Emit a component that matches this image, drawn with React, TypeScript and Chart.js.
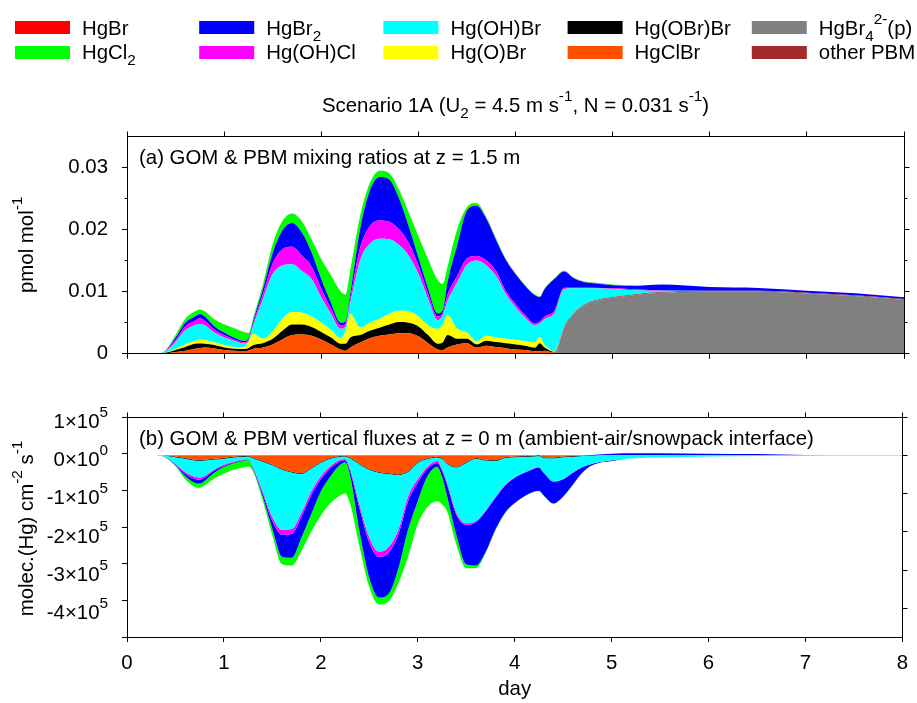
import React, { useEffect, useRef } from 'react';
import { Chart, registerables } from 'chart.js';

Chart.register(...registerables);

const FONT = '"Liberation Sans", Arial, Helvetica, sans-serif';
const FS = 20.4;

// ---------------- data ----------------
const days = [0, 0.3, 0.4, 0.5, 0.6, 0.7, 0.75, 0.8, 0.9, 1.0,
  1.1, 1.2, 1.25, 1.3, 1.4, 1.5, 1.6, 1.7, 1.8, 1.9,
  2.0, 2.1, 2.2, 2.25, 2.3, 2.4, 2.5, 2.6, 2.7, 2.8,
  2.9, 3.0, 3.1, 3.2, 3.25, 3.3, 3.4, 3.5, 3.6, 3.7,
  3.8, 3.9, 4.0, 4.1, 4.2, 4.25, 4.3, 4.4, 4.5, 4.6,
  4.7, 4.8, 5.0, 5.25, 5.5, 6.0, 6.5, 7.0, 7.5, 8.0];

const dayTicks = [0, 1, 2, 3, 4, 5, 6, 7, 8];
const mixTicks = [0, 0.01, 0.02, 0.03];
const mixMinorTicks = [0.005, 0.015, 0.025];
const fluxTicks = [1e5, 0, -1e5, -2e5, -3e5, -4e5];
const fluxTickMantissa = ['1', '0', '-1', '-2', '-3', '-4'];
const fluxTickExponent = ['5', '0', '5', '5', '5', '5'];

// panel (a): mixing ratios, in units of 1e-3 pmol/mol
const MIX_UNIT = 1e-3;
const mixHgBr4p = [0,0,0,0,0,0,0,0,0,0, 0,0,0,0,0,0,0,0,0,0, 0,0,0,0,0,0,0,0,0,0, 0,0,0,0,0,0,0,0,0,0, 0,0,0,0,0,0,0,0,4.2,6.4, 7.7,8.4,9.0,9.5,9.8,10.0,10.0,9.7,9.3,8.7];
const mixOtherPBM = [0,0,0,0,0,0,0,0,0,0, 0,0,0,0,0,0,0,0,0,0, 0,0,0,0,0,0,0,0,0,0, 0,0,0,0,0,0,0,0,0,0, 0,0,0,0,0,0,0,0,0.12,0.12, 0.12,0.12,0.12,0.12,0.12,0.12,0.12,0.12,0.12,0.12];
const mixHgClBr = [0,0,0.1,0.3,0.5,0.8,0.9,1.0,0.85,0.6, 0.5,0.45,0.5,0.8,1.0,1.5,2.3,3.0,3.1,2.9, 2.3,1.5,0.7,0.5,1.0,1.8,2.5,2.9,3.1,3.3, 3.3,2.8,1.7,0.7,0.6,1.0,1.5,1.7,1.0,1.3, 1.1,0.9,0.7,0.6,0.4,0.4,0.5,0.2,0,0, 0,0,0,0,0,0,0,0,0,0];
const mixHgOBrBr = [0,0,0.05,0.3,0.6,0.8,0.75,0.6,0.55,0.4, 0.3,0.3,0.4,0.6,0.7,0.9,1.4,1.7,1.6,1.4, 1.2,1.1,0.9,1.1,1.6,1.2,1.2,1.3,1.6,1.8, 1.7,1.6,1.3,0.9,1.2,2.0,0.9,0.7,0.5,0.8, 0.8,0.8,0.8,0.7,0.6,1.3,0.5,0.1,0,0, 0,0,0,0,0,0,0,0,0,0];
const mixHgOBr = [0,0,0.05,0.2,0.4,0.5,0.65,0.6,0.4,0.4, 0.3,0.35,0.9,1.8,0.7,1.2,1.9,2.0,1.9,1.7, 1.5,1.2,0.9,2.0,3.8,1.2,1.3,1.4,1.7,1.8, 1.8,1.6,1.6,2.4,2.8,3.2,1.6,1.0,0.5,0.8, 0.7,0.7,0.7,0.7,0.8,1.0,0.4,0.1,0,0, 0,0,0,0,0,0,0,0,0,0];
const mixHgOHBr = [0,0,0.2,1.1,2.3,2.5,2.5,2.4,1.6,1.2, 1.0,0.55,0.2,1.3,6.4,9.2,8.6,7.7,6.7,6.0, 4.1,2.6,1.5,0.8,1.8,10.8,12.7,12.9,12.0,10.6, 9.0,6.8,4.2,1.4,1.6,2.3,7.5,10.9,13.0,11.3, 9.9,7.2,5.3,3.8,2.8,2.2,4.2,6.1,6.1,4.0, 2.7,2.0,1.3,0.6,0.2,0,0,0,0,0];
const mixHgOHCl = [0,0,0.05,0.3,0.6,0.7,0.9,0.7,0.5,0.4, 0.2,0.2,0.2,0.4,0.8,1.7,2.6,2.8,2.5,2.0, 1.4,0.9,0.6,0.4,0.8,2.0,2.8,2.9,2.8,2.5, 2.0,1.4,0.9,0.6,0.4,1.0,1.0,1.0,0.7,0.8, 0.8,0.5,0.5,0.4,0.3,0.3,0.4,0.4,0.2,0.1, 0.1,0.1,0.1,0.1,0.05,0,0,0,0,0];
const mixHgBr2 = [0,0,0.05,0.4,0.6,0.7,0.7,0.7,0.5,0.4, 0.3,0.2,0.2,0.4,0.8,1.7,3.0,3.8,3.7,2.3, 1.5,0.9,0.4,0.4,0.8,3.0,5.7,7.0,6.8,5.0, 2.7,1.3,0.8,0.5,0.4,2.0,5.0,7.7,8.1,6.7, 5.0,5.0,4.8,4.7,4.5,3.9,4.4,5.1,2.6,1.5, 0.9,0.7,0.5,0.6,0.95,0.6,0.45,0.3,0.3,0.25];
const mixHgCl2 = [0,0,0.1,0.4,0.6,0.8,0.7,0.8,1.1,1.3, 1.5,1.45,0.9,0.5,0.8,1.4,1.5,1.5,1.8,2.1, 3.2,4.4,5.0,4.3,3.7,2.1,1.2,1.0,1.0,1.4, 2.2,3.4,4.7,5.3,4.2,2.5,2.5,0.5,0.4,0.2, 0.2,0.1,0.1,0.1,0.1,0.1,0.1,0.1,0.1,0.1, 0.1,0.1,0.1,0,0,0,0,0,0,0];
const mixHgBr = [0,0,0,0.03,0.03,0.03,0.03,0.03,0.03,0.03, 0.03,0.03,0.03,0.03,0.03,0.03,0.03,0.03,0.03,0.03, 0.03,0.03,0.03,0.03,0.03,0.03,0.03,0.03,0.03,0.03, 0.03,0.03,0.03,0.03,0.03,0.03,0.03,0.03,0.03,0.03, 0.03,0.03,0.03,0.03,0.03,0.03,0.03,0.03,0.03,0.03, 0.03,0.03,0,0,0,0,0,0,0,0];

// panel (b): vertical fluxes, in units of 1e5 molec.(Hg) cm-2 s-1
const FLUX_UNIT = 1e5;
const fluxHgBr4p = [0,0,0,0,0,0,0,0,0,0, 0,0,0,0,0,0,0,0,0,0, 0,0,0,0,0,0,0,0,0,0, 0,0,0,0,0,0,0,0,0,0, 0,0,0,0,0,0,0,0,0,0, 0,0,0,0,0,0,0,0,0,0];
const fluxOtherPBM = [0,0,0,0,0,0,0,0,0,0, 0,0,0,0,0,0,0,0,0,0, 0,0,0,0,0,0,0,0,0,0, 0,0,0,0,0,0,0,0,0,0, 0,0,0,0,0,0,0,0,0,0, 0,0,0,0,0,0,0,0,0,0];
const fluxHgClBr = [0,0,-0.005,-0.03,-0.07,-0.12,-0.13,-0.12,-0.09,-0.07, -0.04,-0.02,-0.01,-0.06,-0.15,-0.24,-0.36,-0.43,-0.47,-0.33, -0.18,-0.07,-0.02,-0.01,-0.06,-0.22,-0.36,-0.44,-0.47,-0.50, -0.42,-0.18,-0.08,-0.04,-0.08,-0.20,-0.30,-0.18,-0.07,-0.12, -0.13,-0.05,-0.03,-0.02,-0.01,0,-0.05,-0.06,-0.03,-0.02, -0.01,0,0,0,0,0,0,0,0,0];
const fluxHgOBrBr = [0,0,-0.005,-0.02,-0.02,-0.02,-0.02,-0.02,-0.02,-0.02, -0.02,-0.02,-0.02,-0.02,-0.02,-0.02,-0.02,-0.02,-0.02,-0.02, -0.02,-0.02,-0.02,-0.02,-0.02,-0.02,-0.02,-0.02,-0.02,-0.02, -0.02,-0.02,-0.02,-0.02,-0.02,-0.02,-0.02,-0.02,-0.02,-0.02, -0.02,-0.02,-0.02,-0.02,-0.02,-0.02,-0.02,-0.02,-0.02,-0.02, -0.01,-0.01,0,0,0,0,0,0,0,0];
const fluxHgOBr = [0,0,0,0,0,0,0,0,0,0, 0,0,0,0,0,0,0,0,0,0, 0,0,0,0,0,0,0,0,0,0, 0,0,0,0,0,0,0,0,0,0, 0,0,0,0,0,0,0,0,0,0, 0,0,0,0,0,0,0,0,0,0];
const fluxHgOHBr = [0,0,-0.04,-0.17,-0.35,-0.42,-0.43,-0.40,-0.26,-0.16, -0.11,-0.08,-0.07,-0.22,-0.78,-1.36,-1.57,-1.48,-1.01,-0.60, -0.35,-0.19,-0.08,-0.07,-0.26,-1.06,-1.77,-2.06,-1.91,-1.43, -0.64,-0.42,-0.20,-0.09,-0.25,-0.47,-1.18,-1.58,-1.63,-1.31, -0.95,-0.71,-0.53,-0.41,-0.31,-0.29,-0.38,-0.60,-0.57,-0.41, -0.29,-0.21,-0.13,-0.08,-0.06,-0.03,-0.02,-0.015,-0.01,-0.01];
const fluxHgOHCl = [0,0,-0.005,-0.02,-0.04,-0.06,-0.06,-0.05,-0.03,-0.03, -0.02,-0.01,-0.01,-0.03,-0.05,-0.10,-0.13,-0.13,-0.11,-0.10, -0.08,-0.05,-0.04,-0.03,-0.06,-0.10,-0.13,-0.14,-0.15,-0.12, -0.12,-0.10,-0.06,-0.05,-0.05,-0.06,-0.06,-0.04,-0.03,-0.02, -0.02,-0.02,-0.01,-0.01,-0.01,-0.01,-0.01,-0.01,-0.01,-0.01, 0,0,0,0,0,0,0,0,0,0];
const fluxHgBr2 = [0,0,-0.005,-0.02,-0.06,-0.10,-0.10,-0.08,-0.06,-0.03, -0.02,-0.02,-0.01,-0.03,-0.08,-0.20,-0.57,-0.62,-0.54,-0.50, -0.32,-0.22,-0.09,-0.05,-0.10,-0.60,-0.92,-1.06,-1.07,-0.89, -0.75,-0.48,-0.19,-0.10,-0.15,-0.29,-0.54,-1.03,-1.13,-1.06, -0.83,-0.70,-0.66,-0.61,-0.60,-0.61,-0.59,-0.57,-0.45,-0.31, -0.14,-0.04,-0.02,0,0,0,0,0,0,0];
const fluxHgCl2 = [0,0,-0.01,-0.03,-0.09,-0.11,-0.11,-0.12,-0.15,-0.17, -0.17,-0.17,-0.18,-0.06,-0.10,-0.18,-0.20,-0.20,-0.35,-0.45, -0.63,-0.70,-0.80,-0.82,-0.75,-0.40,-0.25,-0.18,-0.20,-0.39, -0.70,-0.60,-0.80,-0.90,-0.73,-0.41,-0.25,-0.10,-0.07,-0.03, -0.02,-0.02,-0.01,-0.01,-0.01,-0.01,-0.01,-0.01,-0.01,-0.01, 0,0,0,0,0,0,0,0,0,0];
const fluxHgBr = [0,0,0,0,0,0,0,0,0,0, 0,0,0,0,0,0,0,0,0,0, 0,0,0,0,0,0,0,0,0,0, 0,0,0,0,0,0,0,0,0,0, 0,0,0,0,0,0,0,0,0,0, 0,0,0,0,0,0,0,0,0,0];
// small upward (positive) HgBr2 flux after day 4.8
const fluxHgBr2Up = [0,0,0,0,0,0,0,0,0,0, 0,0,0,0,0,0,0,0,0,0, 0,0,0,0,0,0,0,0,0,0, 0,0,0,0,0,0,0,0,0,0, 0,0,0,0,0,0,0,0,0,0, 0,0.01,0.04,0.05,0.05,0.04,0.03,0.01,0,0];

type Seg = [string, number]; // 0 normal, 1 superscript, -1 subscript

// stacking order, bottom to top
const species = [
  { key: 'HgBr4', color: '#808080', mix: mixHgBr4p, flux: fluxHgBr4p, segs: [['HgBr', 0], ['4', -1], ['2-', 1], ['(p)', 0]] as Seg[] },
  { key: 'other', color: '#a52a2a', mix: mixOtherPBM, flux: fluxOtherPBM, segs: [['other PBM', 0]] as Seg[] },
  { key: 'HgClBr', color: '#ff5000', mix: mixHgClBr, flux: fluxHgClBr, segs: [['HgClBr', 0]] as Seg[] },
  { key: 'HgOBrBr', color: '#000000', mix: mixHgOBrBr, flux: fluxHgOBrBr, segs: [['Hg(OBr)Br', 0]] as Seg[] },
  { key: 'HgOBr', color: '#ffff00', mix: mixHgOBr, flux: fluxHgOBr, segs: [['Hg(O)Br', 0]] as Seg[] },
  { key: 'HgOHBr', color: '#00ffff', mix: mixHgOHBr, flux: fluxHgOHBr, segs: [['Hg(OH)Br', 0]] as Seg[] },
  { key: 'HgOHCl', color: '#ff00ff', mix: mixHgOHCl, flux: fluxHgOHCl, segs: [['Hg(OH)Cl', 0]] as Seg[] },
  { key: 'HgBr2', color: '#0000ff', mix: mixHgBr2, flux: fluxHgBr2, segs: [['HgBr', 0], ['2', -1]] as Seg[] },
  { key: 'HgCl2', color: '#00ff00', mix: mixHgCl2, flux: fluxHgCl2, segs: [['HgCl', 0], ['2', -1]] as Seg[] },
  { key: 'HgBr', color: '#ff0000', mix: mixHgBr, flux: fluxHgBr, segs: [['HgBr', 0]] as Seg[] },
];

const legendColumns = [
  ['HgBr', 'HgCl2'],
  ['HgBr2', 'HgOHCl'],
  ['HgOHBr', 'HgOBr'],
  ['HgOBrBr', 'HgClBr'],
  ['HgBr4', 'other'],
];

const titleSegs: Seg[] = [['Scenario 1A (U', 0], ['2', -1], [' = 4.5 m s', 0], ['-1', 1], [', N = 0.031 s', 0], ['-1', 1], [')', 0]];
const yTitleA: Seg[] = [['pmol mol', 0], ['-1', 1]];
const yTitleB: Seg[] = [['molec.(Hg) cm', 0], ['-2', 1], [' s', 0], ['-1', 1]];
const panelA = '(a) GOM & PBM mixing ratios at z = 1.5 m';
const panelB = '(b) GOM & PBM vertical fluxes at z = 0 m (ambient-air/snowpack interface)';

// ---------------- helpers ----------------
function drawRich(ctx: CanvasRenderingContext2D, segs: Seg[], x: number, y: number, align: string, size = FS) {
  const sizes = segs.map((s) => (s[1] ? size * 0.75 : size));
  const widths = segs.map((s, i) => {
    ctx.font = `${sizes[i]}px ${FONT}`;
    return ctx.measureText(s[0]).width;
  });
  const total = widths.reduce((a, b) => a + b, 0);
  let cx = align === 'center' ? x - total / 2 : align === 'right' ? x - total : x;
  ctx.textAlign = 'left';
  ctx.textBaseline = 'alphabetic';
  ctx.fillStyle = '#000';
  segs.forEach((s, i) => {
    ctx.font = `${sizes[i]}px ${FONT}`;
    const dy = s[1] === 1 ? -size * 0.55 : s[1] === -1 ? size * 0.27 : 0;
    ctx.fillText(s[0], cx, y + dy);
    cx += widths[i];
  });
}

const al = (p: number) => Math.round(p - 0.5) + 0.5;

function drawFrame(ctx: CanvasRenderingContext2D, a: any, xs: any, ys: any, yMajor: number[], yMinor: number[]) {
  ctx.save();
  ctx.strokeStyle = '#000';
  ctx.lineWidth = 1;
  const T = al(a.top), R = al(a.right), L = al(a.left);
  ctx.beginPath();
  ctx.moveTo(L, T);
  ctx.lineTo(R, T);
  ctx.lineTo(R, al(a.bottom));
  dayTicks.forEach((v) => {
    const px = al(xs.getPixelForValue(v));
    ctx.moveTo(px, T);
    ctx.lineTo(px, T - 5);
  });
  yMajor.forEach((v) => {
    const py = al(ys.getPixelForValue(v));
    ctx.moveTo(R, py);
    ctx.lineTo(R + 5, py);
  });
  yMinor.forEach((v) => {
    const py = al(ys.getPixelForValue(v));
    ctx.moveTo(R, py);
    ctx.lineTo(R + 3, py);
    ctx.moveTo(L, py);
    ctx.lineTo(L - 3, py);
  });
  ctx.stroke();
  ctx.restore();
}

function buildDatasets(field: 'mix' | 'flux', unit: number) {
  return species.map((s, i) => ({
    label: s.key,
    data: days.map((d, j) => ({ x: d, y: s[field][j] * unit })),
    backgroundColor: s.color,
    borderColor: s.color,
    borderWidth: 0,
    pointRadius: 0,
    fill: i === 0 ? 'origin' : '-1',
    cubicInterpolationMode: 'monotone',
  }));
}

const axisCommon = {
  grid: { drawOnChartArea: false, drawTicks: true, tickLength: 5, color: '#000', z: 1 },
  border: { display: true, color: '#000', width: 1, z: 1 },
};

export default function App() {
  const refA = useRef<HTMLCanvasElement>(null);
  const refB = useRef<HTMLCanvasElement>(null);

  useEffect(() => {
    const decorA = {
      id: 'decorA',
      afterDraw(chart: any) {
        const { ctx, chartArea: a, scales } = chart;
        drawFrame(ctx, a, scales.x, scales.y, mixTicks, mixMinorTicks);
        ctx.save();
        // legend
        legendColumns.forEach((col, c) => {
          col.forEach((key, r) => {
            const sp = species.find((s) => s.key === key)!;
            const sx = 15 + 184.2 * c;
            ctx.fillStyle = sp.color;
            ctx.fillRect(sx, 21 + 25 * r, 55, 13);
            drawRich(ctx, sp.segs, sx + 67, 35.2 + 23.8 * r, 'left');
          });
        });
        // title
        drawRich(ctx, titleSegs, (a.left + a.right) / 2, 112.3, 'center');
        // panel label
        drawRich(ctx, [[panelA, 0]], a.left + 12, 164, 'left');
        // y title
        ctx.translate(33, (a.top + a.bottom) / 2);
        ctx.rotate(-Math.PI / 2);
        drawRich(ctx, yTitleA, 0, 0, 'center');
        ctx.restore();
      },
    };

    const decorB = {
      id: 'decorB',
      afterDraw(chart: any) {
        const { ctx, chartArea: a, scales } = chart;
        drawFrame(ctx, a, scales.x, scales.y, fluxTicks, []);
        ctx.save();
        fluxTicks.forEach((v, i) => {
          const py = scales.y.getPixelForValue(v);
          drawRich(ctx, [[fluxTickMantissa[i] + '\u00d710', 0], [fluxTickExponent[i], 1]], 108, py + 10.8, 'right');
        });
        drawRich(ctx, [[panelB, 0]], a.left + 12, 64.6, 'left');
        ctx.translate(33, (a.top + a.bottom) / 2 + 1.5);
        ctx.rotate(-Math.PI / 2);
        drawRich(ctx, yTitleB, 0, 0, 'center');
        ctx.restore();
      },
    };

    const chartA = new Chart(refA.current as HTMLCanvasElement, {
      type: 'line',
      data: { datasets: buildDatasets('mix', MIX_UNIT) as any },
      options: {
        animation: false,
        responsive: false,
        devicePixelRatio: 1,
        layout: { padding: { top: 136, right: 13, left: 0, bottom: 0 } },
        plugins: { legend: { display: false }, tooltip: { enabled: false } },
        scales: {
          x: {
            type: 'linear', min: 0, max: 8,
            ticks: { display: false, stepSize: 1 },
            ...axisCommon,
            afterFit: (s: any) => { s.height = 24; },
          },
          y: {
            stacked: true, min: 0, max: 0.035,
            ticks: {
              stepSize: 0.01, includeBounds: false, padding: 14, color: '#000',
              font: { family: FONT, size: FS },
              callback: (v: any) => (v === 0 ? '0' : Number(v).toFixed(2)),
            },
            ...axisCommon,
            afterFit: (s: any) => { s.width = 127; },
          },
        },
      } as any,
      plugins: [decorA],
    });

    const fluxDatasets: any[] = buildDatasets('flux', FLUX_UNIT);
    fluxDatasets.push({
      label: 'HgBr2 (upward)',
      stack: 'up',
      data: days.map((d, j) => ({ x: d, y: fluxHgBr2Up[j] * FLUX_UNIT })),
      backgroundColor: '#0000ff',
      borderWidth: 0,
      pointRadius: 0,
      fill: 'origin',
      cubicInterpolationMode: 'monotone',
    });

    const chartB = new Chart(refB.current as HTMLCanvasElement, {
      type: 'line',
      data: { datasets: fluxDatasets },
      options: {
        animation: false,
        responsive: false,
        devicePixelRatio: 1,
        layout: { padding: { top: 37, right: 13, left: 0, bottom: 0 } },
        plugins: { legend: { display: false }, tooltip: { enabled: false } },
        scales: {
          x: {
            type: 'linear', min: 0, max: 8,
            ticks: { stepSize: 1, padding: 9, color: '#000', font: { family: FONT, size: FS }, maxRotation: 0 },
            title: { display: true, text: 'day', color: '#000', font: { family: FONT, size: FS }, padding: { top: 0, bottom: 1 } },
            ...axisCommon,
            afterFit: (s: any) => { s.height = 66; },
          },
          y: {
            stacked: true, min: -4.75e5, max: 1e5,
            ticks: { stepSize: 1e5, includeBounds: false, display: false },
            grid: {
              drawOnChartArea: true, drawTicks: true, tickLength: 5, z: 1,
              color: (c: any) => (c.tick && c.tick.value === 0 ? '#8a8a8a' : 'rgba(0,0,0,0)'),
              tickColor: '#000',
            },
            border: { display: true, color: '#000', width: 1, z: 1 },
            afterFit: (s: any) => { s.width = 127; },
          },
        },
      } as any,
      plugins: [decorB],
    });

    return () => {
      chartA.destroy();
      chartB.destroy();
    };
  }, []);

  return (
    <div style={{ position: 'absolute', left: 0, top: 0, width: 917, height: 703, background: '#fff' }}>
      <canvas ref={refA} width={917} height={380} style={{ position: 'absolute', left: 0, top: 0 }} />
      <canvas ref={refB} width={917} height={323} style={{ position: 'absolute', left: 0, top: 380 }} />
    </div>
  );
}
